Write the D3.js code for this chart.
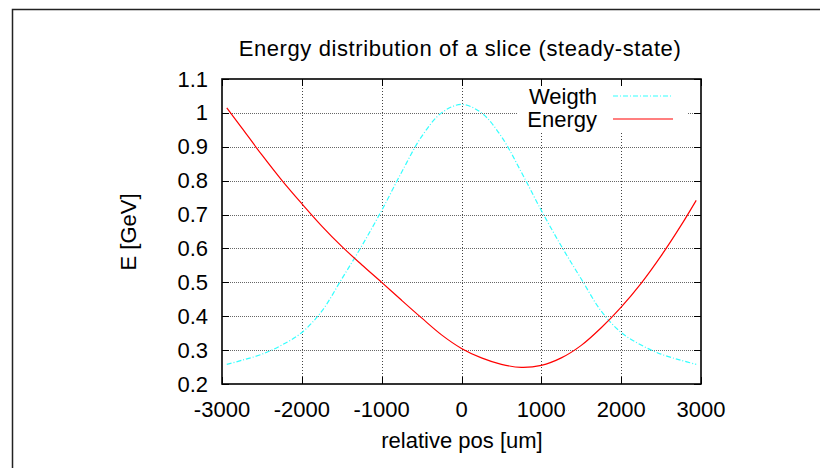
<!DOCTYPE html>
<html><head><meta charset="utf-8">
<script src="https://cdn.jsdelivr.net/npm/d3@7"></script>
<style>body{margin:0;background:#fff}svg{display:block;font-family:"Liberation Sans",Arial,Helvetica,sans-serif}</style>
</head><body><svg id="c" width="820" height="468"></svg>
<script>
const title = "Energy distribution of a slice (steady-state)";
const xLabel = "relative pos [um]";
const yLabel = "E [GeV]";
const xTicks = [-3000,-2000,-1000,0,1000,2000,3000];
const yTicks = [0.2,0.3,0.4,0.5,0.6,0.7,0.8,0.9,1.0,1.1];
const seriesNames = ["Weigth","Energy"];
const weigthX = [-2940,-2750,-2500,-2250,-2000,-1750,-1500,-1250,-1000,-750,-500,-250,0,250,500,750,1000,1250,1500,1750,2000,2250,2500,2750,2940];
const weigthY = [0.258,0.27,0.288,0.315,0.352,0.415,0.51,0.607,0.712,0.825,0.93,1.0,1.025,1.0,0.93,0.825,0.712,0.607,0.51,0.415,0.352,0.315,0.288,0.27,0.258];
const energyX = [-2940,-2750,-2500,-2250,-2000,-1750,-1500,-1250,-1000,-750,-500,-250,0,250,500,750,1000,1250,1500,1750,2000,2250,2500,2750,2940];
const energyY = [1.015,0.955,0.876,0.801,0.732,0.666,0.606,0.552,0.5,0.447,0.395,0.345,0.305,0.277,0.258,0.249,0.255,0.277,0.314,0.366,0.427,0.497,0.578,0.668,0.742];

const svg = d3.select("#c");
const L=222, R=701, T=79, B=384;
const x = d3.scaleLinear().domain([-3000,3000]).range([L,R]);
const y = d3.scaleLinear().domain([0.2,1.1]).range([B,T]);

// outer border
svg.append("path").attr("d","M12.5,468 L12.5,9.5 L820,9.5").attr("fill","none").attr("stroke","#222").attr("stroke-width",1.5);

// grid
const g = svg.append("g");
g.selectAll(".gx").data(xTicks.slice(1,-1)).join("line")
 .attr("x1",d=>Math.round(x(d))+0.5).attr("x2",d=>Math.round(x(d))+0.5).attr("y1",T).attr("y2",B)
 .attr("stroke","#444").attr("stroke-dasharray","1,2");
g.selectAll(".gy").data(yTicks.slice(1,-1)).join("line")
 .attr("y1",d=>Math.round(y(d))+0.5).attr("y2",d=>Math.round(y(d))+0.5).attr("x1",L).attr("x2",R)
 .attr("stroke","#666").attr("stroke-dasharray","1,1");
// legend mask
svg.append("rect").attr("x",517).attr("y",T+1).attr("width",170).attr("height",51).attr("fill","#fff");

// ticks (mirrored, inward)
const tk = svg.append("g").attr("stroke","#000").attr("stroke-width",1);
xTicks.forEach(v=>{const px=Math.round(x(v))+0.5;
  tk.append("line").attr("x1",px).attr("x2",px).attr("y1",B).attr("y2",B-7);
  tk.append("line").attr("x1",px).attr("x2",px).attr("y1",T).attr("y2",T+7);});
yTicks.forEach(v=>{const py=Math.round(y(v))+0.5;
  tk.append("line").attr("y1",py).attr("y2",py).attr("x1",L).attr("x2",L+7);
  tk.append("line").attr("y1",py).attr("y2",py).attr("x1",R).attr("x2",R-7);});

// frame
svg.append("rect").attr("x",L).attr("y",T).attr("width",R-L).attr("height",B-T).attr("fill","none").attr("stroke","#000").attr("stroke-width",1.6);

// tick labels
const fs = 22;
svg.append("g").selectAll("text").data(xTicks).join("text")
 .attr("x",d=>x(d)).attr("y",417).attr("text-anchor","middle").attr("font-size",fs).attr("fill","#000").text(d=>d);
svg.append("g").selectAll("text").data(yTicks).join("text")
 .attr("x",208).attr("y",d=>y(d)+7.5).attr("text-anchor","end").attr("font-size",fs).attr("fill","#000")
 .text(d=>d3.format("~g")(d));

// labels
svg.append("text").attr("x",460).attr("y",56).attr("text-anchor","middle").attr("font-size",fs).attr("letter-spacing",0.6).text(title);
svg.append("text").attr("x",462).attr("y",448).attr("text-anchor","middle").attr("font-size",fs).text(xLabel);
svg.append("text").attr("transform","translate(136,232) rotate(-90)").attr("text-anchor","middle").attr("font-size",fs).text(yLabel);

// lines
const line = d3.line().x(d=>x(d[0])).y(d=>y(d[1])).curve(d3.curveCatmullRom.alpha(0.5));
const wData = weigthX.map((v,i)=>[v,weigthY[i]]);
const eData = energyX.map((v,i)=>[v,energyY[i]]);
svg.append("path").datum(wData).attr("d",line).attr("fill","none").attr("stroke","#33ffff").attr("stroke-width",1.2).attr("stroke-dasharray","5,2,1,2");
svg.append("path").datum(eData).attr("d",line).attr("fill","none").attr("stroke","#ff0000").attr("stroke-width",1.2);

// legend
const leg = [{n:seriesNames[0],c:"#33ffff",d:"5,2,1,2",y:96},{n:seriesNames[1],c:"#ff0000",d:null,y:119}];
leg.forEach(l=>{
  svg.append("text").attr("x",597).attr("y",l.y+7.5).attr("text-anchor","end").attr("font-size",fs).text(l.n);
  svg.append("line").attr("x1",613).attr("x2",673).attr("y1",l.y).attr("y2",l.y).attr("stroke",l.c).attr("stroke-width",1.2).attr("stroke-dasharray",l.d);
});
</script></body></html>
